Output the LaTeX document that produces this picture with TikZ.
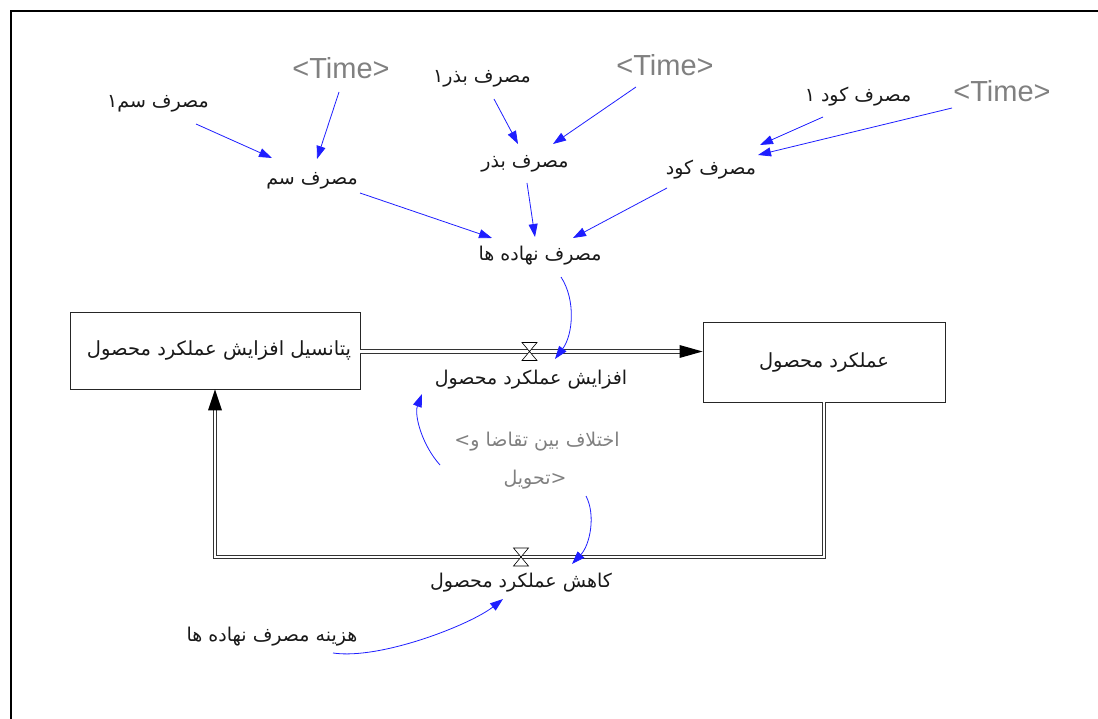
\documentclass[tikz,border=0pt]{standalone}
\usepackage{fontspec}
\setmainfont{Liberation Sans}
\newfontfamily\arabicfont[Script=Arabic]{DejaVu Sans}
\newfontfamily\symfont{DejaVu Sans}
\TeXXeTstate=1
\usetikzlibrary{arrows.meta,calc}
\definecolor{linkblue}{RGB}{30,30,255}
\definecolor{ghost}{RGB}{128,128,128}
\definecolor{ink}{RGB}{25,25,25}

\tikzset{
  fa/.style={font=\arabicfont\fontsize{19}{22}\selectfont, text=ink, inner sep=1pt},
  shadowvar/.style={font=\fontsize{29}{31}\selectfont, text=ghost, inner sep=1pt},
  ghostfa/.style={font=\arabicfont\fontsize{19}{22}\selectfont, text=ghost, inner sep=1pt},
  link/.style={draw=linkblue, line width=0.8pt, -{Triangle[length=13pt,width=9pt]}},
  stockbox/.style={draw=black!85, line width=0.9pt, fill=white, inner sep=0pt,
                   font=\arabicfont\fontsize{19.5}{22}\selectfont, text=ink},
  pipe/.style={draw=black!80, line width=0.9pt, double=white, double distance=2.4pt, line join=miter},
  valve/.pic={\draw[fill=white, line width=0.6pt] (-7.5,-9) -- (7.5,-9) -- (-7.5,9) -- (7.5,9) -- cycle;}
}

\begin{document}
\begin{tikzpicture}[x=1pt,y=-1pt]
\useasboundingbox (0,0) rectangle (1098,719);

% frame
\draw[line width=2pt] (11,719) -- (11,11) -- (1098,11);

% stocks
\node[stockbox, minimum width=290pt, minimum height=77pt] (stockL) at (215,350.5)
  {\hspace*{8pt}\beginR پتانسیل افزایش عملکرد محصول\endR};
\node[stockbox, minimum width=242pt, minimum height=80pt] (stockR) at (824,362)
  {\beginR عملکرد محصول\endR};

% valves and flow pipes
\coordinate (v1) at (529.5,351.5);
\coordinate (v2) at (521,557);
\coordinate (c1) at (824,557);
\coordinate (c2) at (215,557);

\draw[pipe, shorten >=22pt] (stockL.east |- v1) -- (stockR.west |- v1);
\fill[black] (stockR.west |- v1) -- ++(-23,-6.5) -- ++(0,13) -- cycle;

\draw[pipe, shorten >=21pt] (stockR.south) -- (c1) -- (c2) -- (stockL.south);
\fill[black] (stockL.south) -- ++(-7,21) -- ++(14,0) -- cycle;

\pic at (v1) {valve};
\pic at (v2) {valve};

% flow labels
\node[fa] (afz) at (531,380) {\beginR افزایش عملکرد محصول\endR};
\node[fa] (kahesh) at (521,583) {\beginR کاهش عملکرد محصول\endR};

% auxiliaries
\node[shadowvar] (time1) at (341,68) {<Time>};
\node[shadowvar] (time2) at (665,65) {<Time>};
\node[shadowvar] (time3) at (1002,91) {<Time>};

\node[fa] (sam1) at (158,104) {\beginR مصرف سم۱\endR};
\node[fa] (bazr1) at (482,79) {\beginR مصرف بذر۱\endR};
\node[fa] (kud1) at (858,97) {\beginR مصرف کود ۱\endR};

\node[fa] (sam) at (312,181) {\beginR مصرف سم\endR};
\node[fa] (bazr) at (525,164) {\beginR مصرف بذر\endR};
\node[fa] (kud) at (711,170) {\beginR مصرف کود\endR};

\node[fa] (nahadeh) at (540,256) {\beginR مصرف نهاده ها\endR};

% two-line shadow variable, brackets set apart from the right-to-left runs
\node[ghostfa] (ekh1) at (537,442)
  {\hbox{\beginL\symfont <\endL}\hbox{\beginR اختلاف بین تقاضا و\endR}};
\node[ghostfa] (ekh2) at (535,480)
  {\hbox{\beginR تحویل\endR}\hbox{\beginL\symfont >\endL}};

\node[fa] (hazineh) at (272,637) {\beginR هزینه مصرف نهاده ها\endR};

% straight links
\draw[link] ($(sam1)+(38,20)$) -- ($(sam)+(-40,-23)$);
\draw[link] ($(time1)+(-2,24)$) -- ($(sam)+(5,-22)$);
\draw[link] ($(sam)+(48,12)$) -- ($(nahadeh)+(-48,-18)$);
\draw[link] ($(bazr1)+(12,20)$) -- ($(bazr)+(-7,-20)$);
\draw[link] ($(time2)+(-29,22)$) -- ($(bazr)+(28,-20)$);
\draw[link] ($(bazr)+(2,19)$) -- ($(nahadeh)+(-5,-19)$);
\draw[link] ($(kud1)+(-35,20)$) -- ($(kud)+(49,-25)$);
\draw[link] ($(time3)+(-50,17)$) -- ($(kud)+(47,-15)$);
\draw[link] ($(kud)+(-44,18)$) -- ($(nahadeh)+(33,-18)$);

% curved links
\draw[link] ($(nahadeh)+(21,21)$) .. controls +(15,23) and +(18,-24) .. ($(v1)+(25.5,7.5)$);
\draw[link] ($(ekh1)+(-97,23)$) .. controls +(-18,-20) and +(-8,21) .. ($(afz)+(-109,14)$);
\draw[link] ($(ekh2)+(51,16)$) .. controls +(10,19) and +(18,-19) .. ($(v2)+(51,7)$);
\draw[link] ($(hazineh)+(61,16)$) .. controls +(47,7) and +(-33,26) .. ($(kahesh)+(-18,16)$);

\end{tikzpicture}
\end{document}
